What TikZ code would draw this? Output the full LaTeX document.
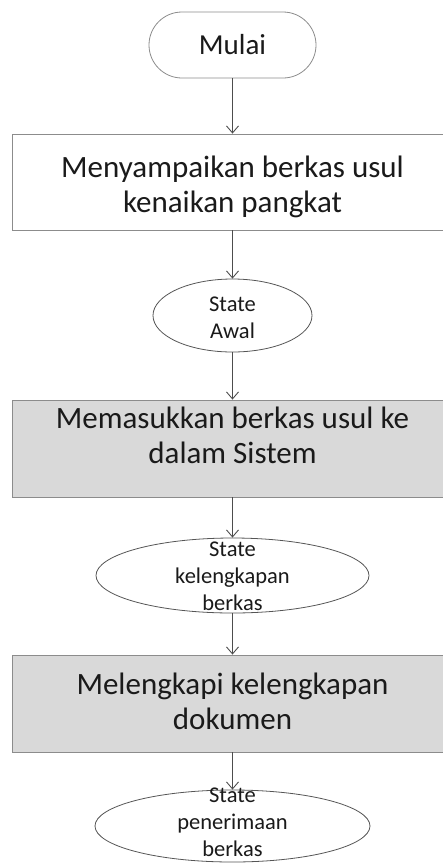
\documentclass[tikz,border=0pt]{standalone}
\usepackage{fontspec}
\setmainfont{Carlito}
\usetikzlibrary{arrows.meta,shapes.geometric}

\definecolor{boxline}{HTML}{8C8C8C}
\definecolor{ovalline}{HTML}{555555}
\definecolor{flowline}{HTML}{4D4D4D}
\definecolor{procfill}{HTML}{D9D9D9}
\definecolor{ink}{HTML}{1A1A1A}

\tikzset{
  terminal/.style={draw=boxline, line width=0.8pt, rounded corners=33pt,
    minimum width=167pt, minimum height=66pt, inner sep=0pt,
    font=\fontsize{29}{35}\selectfont, text=ink},
  procbox/.style={draw=boxline, line width=0.8pt, minimum width=440pt,
    minimum height=96pt, inner sep=0pt},
  proctext/.style={align=center, font=\fontsize{31}{35}\selectfont,
    text=ink, inner sep=0pt},
  statebox/.style={ellipse, draw=ovalline, line width=0.8pt, fill=white,
    inner sep=0pt},
  statetext/.style={align=center, font=\fontsize{22.5}{27}\selectfont,
    text=ink, inner sep=0pt},
  flow/.style={draw=flowline, line width=0.9pt,
    -{Straight Barb[length=7pt,width=12pt]}},
}

\begin{document}
\begin{tikzpicture}[x=1pt,y=-1pt]
\useasboundingbox (0,0) rectangle (443,863);
\clip (0,0) rectangle (443,863);

% start terminal
\node[terminal] (mulai) at (232.5,45) {Mulai};

% submission step
\node[procbox, fill=white] (kirim) at (232.5,182) {};
\node[proctext] (kirimtxt) at (232.5,186.8) {Menyampaikan berkas usul\\kenaikan pangkat};

% first state
\node[statebox, minimum width=159pt, minimum height=73pt] (awal) at (232.5,315.5) {};
\node[statetext] (awaltxt) at (232.5,318) {State\\Awal};

% data entry step
\node[procbox, fill=procfill, minimum height=97pt] (input) at (232.5,448.5) {};
\node[proctext] (inputtxt) at (232.5,435.7) {Memasukkan berkas usul ke\\dalam Sistem};

% completeness state
\node[statebox, minimum width=273pt, minimum height=75pt] (lengkap) at (232.5,575.5) {};
\node[statetext] (lengkaptxt) at (232.5,576.7) {State\\kelengkapan\\berkas};

% completion step
\node[procbox, fill=procfill, minimum height=97pt] (dokumen) at (232.5,703.5) {};
\node[proctext] (dokumentxt) at (232.5,701.7) {Melengkapi kelengkapan\\dokumen};

% acceptance state
\node[statebox, minimum width=275pt, minimum height=72pt] (terima) at (232.5,826) {};
\node[statetext] (terimatxt) at (232.5,822.5) {State\\penerimaan\\berkas};

% connectors
\draw[flow] (mulai.south) -- (kirim.north);
\draw[flow] (kirim.south) -- (awal.north);
\draw[flow] (awal.south) -- (input.north);
\draw[flow] (input.south) -- (lengkap.north);
\draw[flow] (lengkap.south) -- (dokumen.north);
\draw[flow] (dokumen.south) -- (terima.north);
\end{tikzpicture}
\end{document}
